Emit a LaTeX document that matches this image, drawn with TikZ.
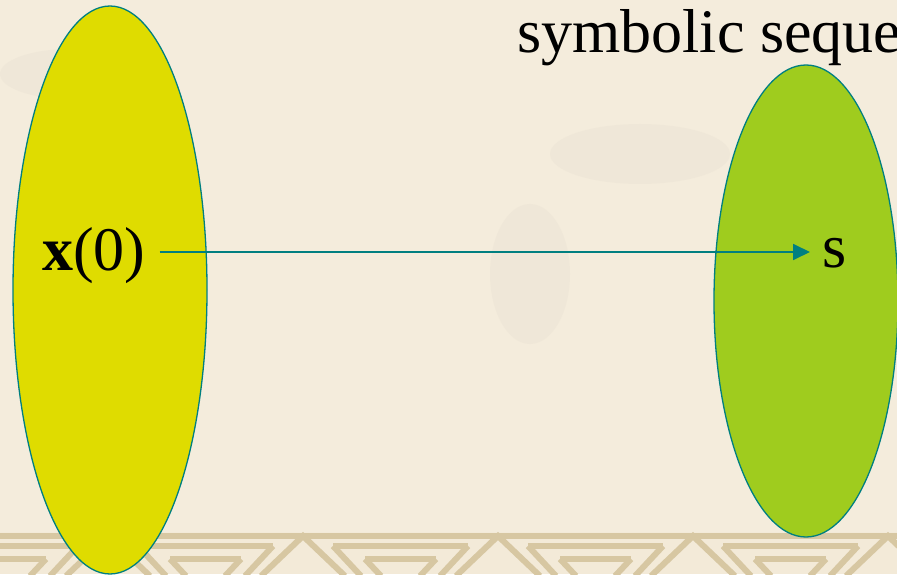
\documentclass[tikz,border=0pt]{standalone}
\usepackage{fontspec}
\setmainfont{Liberation Serif}
\usetikzlibrary{arrows.meta}
\definecolor{bgcol}{HTML}{F4ECDC}
\definecolor{bandcol}{HTML}{F3EAD8}
\definecolor{tancol}{HTML}{D7C7A2}
\definecolor{yellowfill}{HTML}{DFDC00}
\definecolor{greenfill}{HTML}{9FCC1E}
\definecolor{tealline}{HTML}{007F80}
\tikzset{
  blob/.style={draw=tealline, line width=1.3pt},
  label/.style={font=\fontsize{62}{62}\selectfont, text=black, inner sep=0pt},
  conn/.style={draw=tealline, line width=1.8pt, -{Triangle[length=17pt,width=16pt]}},
  deco/.style={draw=tancol, line width=6pt, line cap=butt}
}
\begin{document}
\begin{tikzpicture}[x=1pt,y=1pt]
\useasboundingbox (0,0) rectangle (897,574);
\clip (0,0) rectangle (897,574);
\fill[bgcol] (0,0) rectangle (897,574);
% faint background shading
\fill[black!5!bgcol, opacity=0.35] (70,500) ellipse (70 and 25);
\fill[black!5!bgcol, opacity=0.35] (640,420) ellipse (90 and 30);
\fill[black!5!bgcol, opacity=0.35] (530,300) ellipse (40 and 70);
% bottom decorative band
\fill[bandcol] (0,0) rectangle (897,42);
\draw[deco] (0,38) -- (897,38);
\foreach \a in {-87,108,303,498,693,888} {
  \draw[deco] (\a-42,-2) -- (\a,38) -- (\a+42,-2);
  \draw[deco] (\a+30,28) -- (\a+165,28);
  \draw[deco] (\a+30,28) -- (\a+58,-2);
  \draw[deco] (\a+165,28) -- (\a+137,-2);
  \draw[deco] (\a+62,15) -- (\a+133,15);
  \draw[deco] (\a+62,15) -- (\a+78,-2);
  \draw[deco] (\a+133,15) -- (\a+117,-2);
}
% ellipses
\path[blob, fill=yellowfill] (110,284) ellipse (97 and 284);
\path[blob, fill=greenfill] (806,273) ellipse (92 and 236);
% texts
\node[label, anchor=base west] (x0) at (42,304) {\textbf{x}(0)};
\node[label, anchor=base west] (s) at (822,306) {s};
\node[label, anchor=base west] (title) at (517,521) {symbolic seque};
% connector
\draw[conn, shorten <=14pt, shorten >=12pt] (x0.east |- 0,322) -- (s.west |- 0,322);
\end{tikzpicture}
\end{document}
